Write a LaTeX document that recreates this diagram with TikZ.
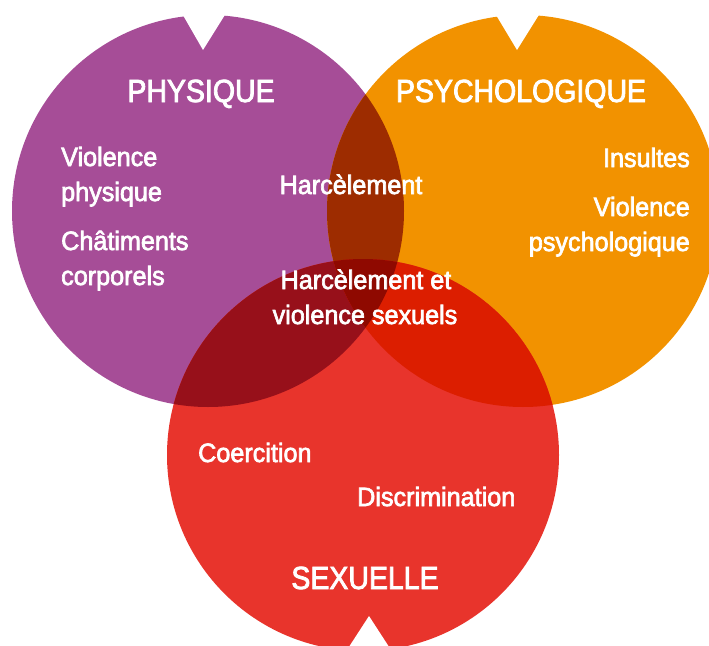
\documentclass[tikz,border=0pt]{standalone}
\usepackage{fontspec}
\setmainfont{Liberation Sans}
\newfontfamily\titlef{Liberation Sans}[FakeStretch=0.89,FakeBold=2.5]
\newfontfamily\bodyf{Liberation Sans}[FakeStretch=0.95,FakeBold=2.5]
\definecolor{cP}{RGB}{166,77,151}
\definecolor{cO}{RGB}{242,146,0}
\definecolor{cR}{RGB}{232,52,44}
\definecolor{cPO}{RGB}{157,44,0}
\definecolor{cPR}{RGB}{151,16,26}
\definecolor{cOR}{RGB}{220,30,0}
\definecolor{cPOR}{RGB}{143,9,0}
\tikzset{
  ttl/.style={text=white, inner sep=0pt, font=\titlef\fontsize{32}{36}\selectfont},
  lbl/.style={text=white, inner sep=0pt, font=\bodyf\fontsize{26.5}{30}\selectfont},
}
\begin{document}
\begin{tikzpicture}[x=1pt,y=-1pt]
\useasboundingbox (0,0) rectangle (709,645);
\clip (0,0) rectangle (709,645);
\coordinate (P) at (208,211);
\coordinate (O) at (523,211);
\coordinate (R) at (363,455);
\def\rad{196pt}
% circles
\fill[cP] (P) circle[radius=\rad];
\fill[cO] (O) circle[radius=\rad];
\fill[cR] (R) circle[radius=\rad];
% pairwise overlaps
\begin{scope}
  \clip (P) circle[radius=\rad];
  \fill[cPO] (O) circle[radius=\rad];
  \fill[cPR] (R) circle[radius=\rad];
\end{scope}
\begin{scope}
  \clip (O) circle[radius=\rad];
  \fill[cOR] (R) circle[radius=\rad];
\end{scope}
\begin{scope}
  \clip (P) circle[radius=\rad];
  \clip (O) circle[radius=\rad];
  \fill[cPOR] (R) circle[radius=\rad];
\end{scope}
% notches
\fill[white] (180,10) -- (203,50) -- (228,10) -- cycle;
\fill[white] (493,10) -- (517,50) -- (542,10) -- cycle;
\fill[white] (345,653) -- (369,616) -- (393,653) -- cycle;
% titles
\node[ttl, anchor=base] (tP) at (201,102) {PHYSIQUE};
\node[ttl, anchor=base] (tO) at (521,102) {PSYCHOLOGIQUE};
\node[ttl, anchor=base] (tR) at (365,589) {SEXUELLE};
% labels
\node[lbl, anchor=base west] (l1) at (61,166) {Violence};
\node[lbl, anchor=base west] (l2) at (61,201) {physique};
\node[lbl, anchor=base west] (l3) at (61,250) {Châtiments};
\node[lbl, anchor=base west] (l4) at (61,285) {corporels};
\node[lbl, anchor=base] (l5) at (351,194) {Harcèlement};
\node[lbl, anchor=base] (l6) at (366,289) {Harcèlement et};
\node[lbl, anchor=base] (l7) at (365,324) {violence sexuels};
\node[lbl, anchor=base east] (l8) at (690,167) {Insultes};
\node[lbl, anchor=base east] (l9) at (690,216) {Violence};
\node[lbl, anchor=base east] (l10) at (690,251) {psychologique};
\node[lbl, anchor=base west] (l11) at (198,462) {Coercition};
\node[lbl, anchor=base west] (l12) at (357,506) {Discrimination};
\end{tikzpicture}
\end{document}
